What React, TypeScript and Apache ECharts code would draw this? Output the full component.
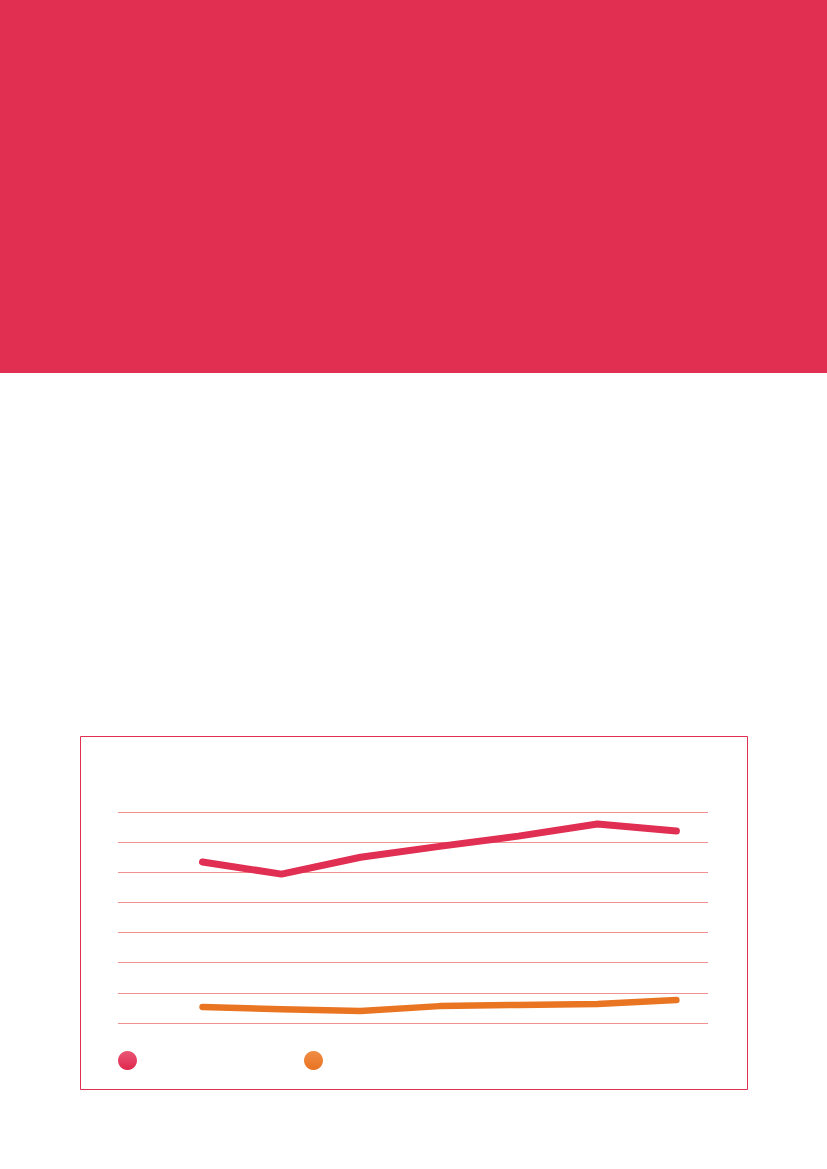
import React, { useEffect, useRef } from "react";
import * as echarts from "echarts";

const categoryIndex = [0, 1, 2, 3, 4, 5, 6];
const seriesNames = ["Series A", "Series B"];
const redValues = [5.34, 4.94, 5.5, 5.86, 6.2, 6.6, 6.37];
const orangeValues = [0.53, 0.46, 0.4, 0.56, 0.6, 0.63, 0.76];

const RED = "#E02F52";
const ORANGE = "#E97523";

const App: React.FC = () => {
  const chartRef = useRef<HTMLDivElement>(null);

  useEffect(() => {
    if (!chartRef.current) return;
    const chart = echarts.init(chartRef.current, undefined, { renderer: "svg" });

    const pairs = (vals: number[]) => categoryIndex.map((x, i) => [x, vals[i]]);

    const option = {
      animation: false,
      graphic: [
        {
          type: "rect",
          shape: { x: 0, y: 0, width: 827, height: 373 },
          style: { fill: "#E12F51" },
          silent: true,
        },
        {
          type: "rect",
          shape: { x: 80.5, y: 736.5, width: 667, height: 353 },
          style: { fill: "none", stroke: "#E12F51", lineWidth: 1 },
          silent: true,
        },
      ],
      legend: {
        left: 113,
        top: 1046,
        padding: 5,
        icon: "circle",
        itemWidth: 19,
        itemHeight: 19,
        itemGap: 167,
        formatter: () => "",
        selectedMode: false,
        data: [
          {
            name: seriesNames[0],
            itemStyle: {
              color: new echarts.graphic.LinearGradient(0, 0, 0, 1, [
                { offset: 0, color: "#E95674" },
                { offset: 1, color: "#E0284E" },
              ]),
            },
          },
          {
            name: seriesNames[1],
            itemStyle: {
              color: new echarts.graphic.LinearGradient(0, 0, 0, 1, [
                { offset: 0, color: "#F08D45" },
                { offset: 1, color: "#E87322" },
              ]),
            },
          },
        ],
      },
      grid: { left: 118, right: 119, top: 812, bottom: 146 },
      xAxis: {
        type: "value",
        min: -1.07,
        max: 6.4,
        show: false,
        splitLine: { show: false },
      },
      yAxis: {
        type: "value",
        min: 0,
        max: 7,
        interval: 1,
        axisLine: { show: false },
        axisTick: { show: false },
        axisLabel: { show: false },
        splitLine: { lineStyle: { color: "#F0908F", width: 1 } },
      },
      series: [
        {
          name: seriesNames[0],
          type: "line",
          data: pairs(redValues),
          showSymbol: false,
          symbol: "none",
          lineStyle: { color: RED, width: 7, cap: "round", join: "round" },
          itemStyle: { color: RED },
        },
        {
          name: seriesNames[1],
          type: "line",
          data: pairs(orangeValues),
          showSymbol: false,
          symbol: "none",
          lineStyle: { color: ORANGE, width: 6.5, cap: "round", join: "round" },
          itemStyle: { color: ORANGE },
        },
      ],
    };

    chart.setOption(option);
    return () => chart.dispose();
  }, []);

  return (
    <div
      ref={chartRef}
      style={{ position: "absolute", left: 0, top: 0, width: 827, height: 1169 }}
    />
  );
};

export default App;
